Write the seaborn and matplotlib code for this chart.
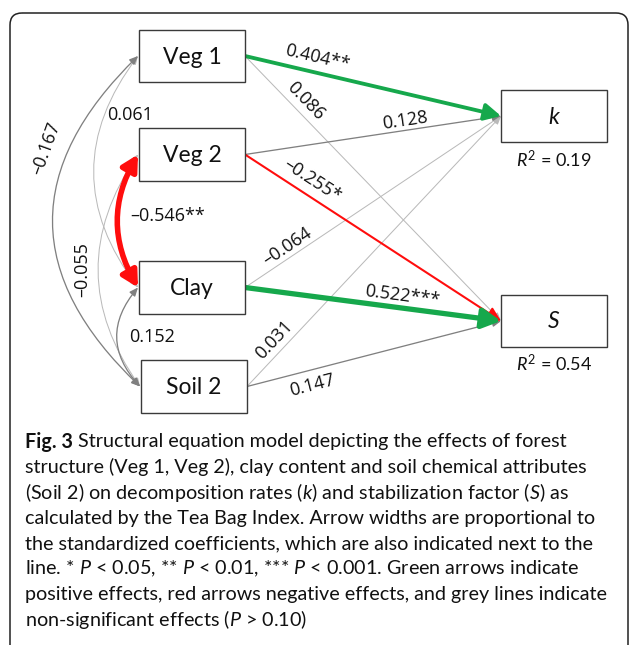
import numpy as np
import matplotlib
matplotlib.use("Agg")
import matplotlib.pyplot as plt
from matplotlib.patches import FancyArrowPatch, FancyBboxPatch, Rectangle, ArrowStyle
import seaborn as sns

# ---- model values -------------------------------------------------------
predictors = ["Veg 1", "Veg 2", "Clay", "Soil 2"]
responses = ["k", "S"]
r_squared = [0.19, 0.54]

# standardized path coefficients (predictor -> response) and significance stars
coef_k = [0.404, 0.128, -0.064, 0.031]
stars_k = ["**", "", "", ""]
coef_S = [0.086, -0.255, 0.522, 0.147]
stars_S = ["", "*", "***", ""]

# correlations among predictors
corr_pairs = [("Veg 1", "Soil 2"), ("Veg 1", "Clay"), ("Veg 2", "Soil 2"),
              ("Veg 2", "Clay"), ("Clay", "Soil 2")]
corr_vals = [-0.167, 0.061, -0.055, -0.546, 0.152]
corr_stars = ["", "", "", "**", ""]

caption_head = "Fig. 3"
caption_lines = [
    " Structural equation model depicting the effects of forest",
    "structure (Veg 1, Veg 2), clay content and soil chemical attributes",
    r"(Soil 2) on decomposition rates ($\mathit{k}$) and stabilization factor ($\mathit{S}$) as",
    "calculated by the Tea Bag Index. Arrow widths are proportional to",
    "the standardized coefficients, which are also indicated next to the",
    r"line. * $\mathit{P}$ < 0.05, ** $\mathit{P}$ < 0.01, *** $\mathit{P}$ < 0.001. Green arrows indicate",
    "positive effects, red arrows negative effects, and grey lines indicate",
    r"non-significant effects ($\mathit{P}$ > 0.10)",
]

# ---- style --------------------------------------------------------------
sns.set_theme(style="white")
FONT = "Lato"
LABEL_FONT = "Open Sans"
plt.rcParams["font.family"] = [FONT, "DejaVu Sans"]
plt.rcParams["mathtext.fontset"] = "custom"
plt.rcParams["mathtext.rm"] = FONT
plt.rcParams["mathtext.it"] = FONT + ":italic"
plt.rcParams["mathtext.bf"] = FONT + ":bold"

GREEN = "#16a84c"
RED = "#ff0d0d"
DARK_GREY = "#808080"
LIGHT_GREY = "#b9b9b9"
PT = 0.72  # points per pixel at 100 dpi

fig = plt.figure(figsize=(6.29, 6.45), dpi=100)
ax = fig.add_axes([0, 0, 1, 1])
ax.set_xlim(0, 629)
ax.set_ylim(645, 0)
ax.axis("off")

# outer rounded frame
ax.add_patch(FancyBboxPatch((10, 13), 618, 645,
                            boxstyle="round,pad=0,rounding_size=12",
                            fc="none", ec="#222222", lw=1.1))

# ---- node layout (x, y, w, h) -------------------------------------------
boxes = {
    "Veg 1": (139, 30, 106, 52),
    "Veg 2": (139, 128, 106, 53),
    "Clay": (139, 261, 106, 53),
    "Soil 2": (141, 360, 106, 53),
    "k": (501, 90, 106, 52),
    "S": (501, 295, 106, 52),
}

for name, (x, y, w, h) in boxes.items():
    ax.add_patch(Rectangle((x, y), w, h, fc="white", ec="#3a3a3a", lw=1.0, zorder=3))
    italic = name in responses
    ax.text(x + w / 2, y + h / 2 + 1, name, ha="center", va="center",
            fontsize=16.5, style="italic" if italic else "normal",
            color="#111111", zorder=4)

for name, r2 in zip(responses, r_squared):
    x, y, w, h = boxes[name]
    ax.text(x + w / 2, y + h + 17, r"$\mathit{R}^{2}$" + f" = {r2:.2f}",
            ha="center", va="center", fontsize=13, color="#111111")


def fmt(v, s=""):
    txt = f"{abs(v):.3f}"
    return ("\u2013" if v < 0 else "") + txt + s


def style_of(v, s):
    if s:
        return (GREEN if v > 0 else RED), 12 * abs(v) - 1.0
    return (DARK_GREY if abs(v) >= 0.1 else LIGHT_GREY), (1.3 if abs(v) >= 0.1 else 1.0)


def right_mid(n):
    x, y, w, h = boxes[n]
    return np.array([x + w, y + h / 2])


def left_mid(n):
    x, y, w, h = boxes[n]
    return np.array([x, y + h / 2])


# label placement along each path: (fraction along line, perpendicular offset px)
path_label_pos = {
    ("Veg 1", "k"): (0.27, 14.5), ("Veg 2", "k"): (0.63, 10.0),
    ("Clay", "k"): (0.188, 10.5), ("Soil 2", "k"): (0.142, 12.5),
    ("Veg 1", "S"): (0.203, 12.5), ("Veg 2", "S"): (0.23, 14.5),
    ("Clay", "S"): (0.607, 12.0), ("Soil 2", "S"): (0.241, -15.0),
}

paths = []
for resp, coefs, stars in (("k", coef_k, stars_k), ("S", coef_S, stars_S)):
    for p, c, s in zip(predictors, coefs, stars):
        paths.append((p, resp, c, s))

# grey paths drawn first so coloured ones sit on top
paths.sort(key=lambda t: (t[3] != "", abs(t[2])))

for p, resp, c, s in paths:
    a = right_mid(p)
    b = left_mid(resp)
    col, lw_px = style_of(c, s)
    if s:
        hl, hw = 8 + 14 * abs(c), 3 + 10 * abs(c)
    else:
        hl, hw = 7, 3
    arr = FancyArrowPatch(a, b, arrowstyle=ArrowStyle("-|>", head_length=hl * PT, head_width=hw * PT),
                          color=col, lw=lw_px * PT, shrinkA=0, shrinkB=0,
                          mutation_scale=1, zorder=2 if s else 1)
    ax.add_patch(arr)
    d = b - a
    L = np.hypot(*d)
    u = d / L
    n = np.array([u[1], -u[0]])
    t, off = path_label_pos[(p, resp)]
    pos = a + d * t + n * off
    ang = -np.degrees(np.arctan2(d[1], d[0]))
    ax.text(pos[0], pos[1], fmt(c, s), rotation=ang, rotation_mode="anchor",
            ha="center", va="center", fontsize=13, family=LABEL_FONT,
            color="#111111", zorder=5)

# ---- correlations between predictors (curved double-headed arrows) -------
corr_rad = [0.52, 0.38, 0.35, 0.29, 0.44]
corr_label_pos = [(46, 148, 70), (130, 115, 0), (82, 270, 90), (168, 216, 0), (152, 337, 0)]

order = sorted(range(len(corr_vals)), key=lambda i: (corr_stars[i] != "", abs(corr_vals[i])))
for i in order:
    (n1, n2), v, s = corr_pairs[i], corr_vals[i], corr_stars[i]
    a = left_mid(n1) + np.array([-1, 0])
    b = left_mid(n2) + np.array([-1, 0])
    col, lw_px = style_of(v, s)
    if s:
        hl, hw = 13, 7
    else:
        hl, hw = 7, 3
    ax.add_patch(FancyArrowPatch(a, b, connectionstyle=f"arc3,rad={corr_rad[i]}",
                                 arrowstyle=ArrowStyle("<|-|>", head_length=hl * PT, head_width=hw * PT),
                                 color=col, lw=lw_px * PT, shrinkA=0, shrinkB=0,
                                 mutation_scale=1, zorder=2 if s else 1))
    lx, ly, rot = corr_label_pos[i]
    ax.text(lx, ly, fmt(v, s), rotation=rot, rotation_mode="anchor",
            ha="center", va="center", fontsize=13, family=LABEL_FONT,
            color="#111111", zorder=5)

# ---- caption ---------------------------------------------------------------
renderer = fig.canvas.get_renderer()
probe = ax.text(0, 0, caption_lines[3], fontsize=14)
w14 = probe.get_window_extent(renderer).width
probe.remove()
cap_size = 14 * 572 / w14

x0, y0, dy = 25, 442, 25.4
head = ax.text(x0, y0, caption_head, ha="left", va="center", fontsize=cap_size,
               fontweight="bold", color="#111111")
head_w = head.get_window_extent(renderer).width
for k_, line in enumerate(caption_lines):
    ax.text(x0 + (head_w if k_ == 0 else 0), y0 + k_ * dy, line, ha="left", va="center",
            fontsize=cap_size, color="#111111")

fig.savefig("out.png", dpi=100)
